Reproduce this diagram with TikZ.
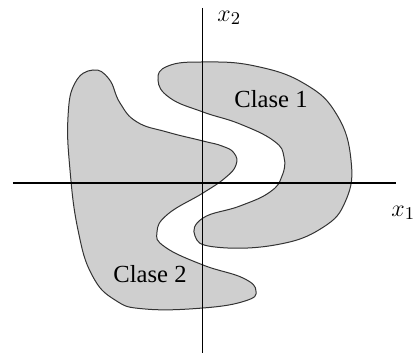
\documentclass[tikz,border=0pt]{standalone}
\usepackage{fontspec}
\setmainfont{Liberation Serif}
\usetikzlibrary{positioning}
\definecolor{regGrey}{HTML}{CFCFCF}
\definecolor{regEdge}{HTML}{333333}

\begin{document}
\begin{tikzpicture}[
    x=0.5pt, y=-0.5pt,
    every node/.style={font=\fontsize{12.3}{14}\selectfont},
    % --- styles ---
    region/.style={fill=regGrey, draw=regEdge, line width=0.5pt,
                   smooth cycle, tension=0.75},
    axis/.style={draw=black, line width=0.6pt},
    lbl/.style={inner sep=0pt},
]
\useasboundingbox (0,0) rectangle (414,353);

% ===== REGIONS ==============================================================

% -- Clase 2 (left) --
\draw[region] plot coordinates {
    (93,70) (75,83) (68,117) (70,170) (78,230) (92,275) (115,300)
    (145,309) (203,308) (245,301) (256,291) (243,278) (203,265)
    (165,247) (157,232) (168,214) (203,193) (225,178) (236,165)
    (234,153) (222,146) (203,141) (167,132) (137,122) (120,103)
    (109,79)};

% -- Clase 1 (right) --
\draw[region] plot coordinates {
    (158,80) (168,66) (203,62) (255,66) (305,84) (337,115) (351,160)
    (346,200) (322,228) (275,245) (215,247) (195,236) (203,218)
    (240,206) (270,192) (282,176) (284,157) (274,141) (240,124)
    (203,112) (170,98)};

% ===== AXES =================================================================

\coordinate (xl) at (13,183);
\coordinate (xr) at (396,183);
\coordinate (yt) at (202.7,8);
\coordinate (yb) at (202.7,353);
\draw[axis] (xl) -- (xr);
\draw[axis] (yt) -- (yb);

\node[lbl, anchor=west] (lx2) at (217,18) {$x_2$};
\node[lbl, anchor=west] (lx1) at (391,213) {$x_1$};

% ===== LABELS ===============================================================

\node[lbl] (c1) at (271,99) {Clase 1};
\node[lbl] (c2) at (150,274) {Clase 2};

\end{tikzpicture}
\end{document}
